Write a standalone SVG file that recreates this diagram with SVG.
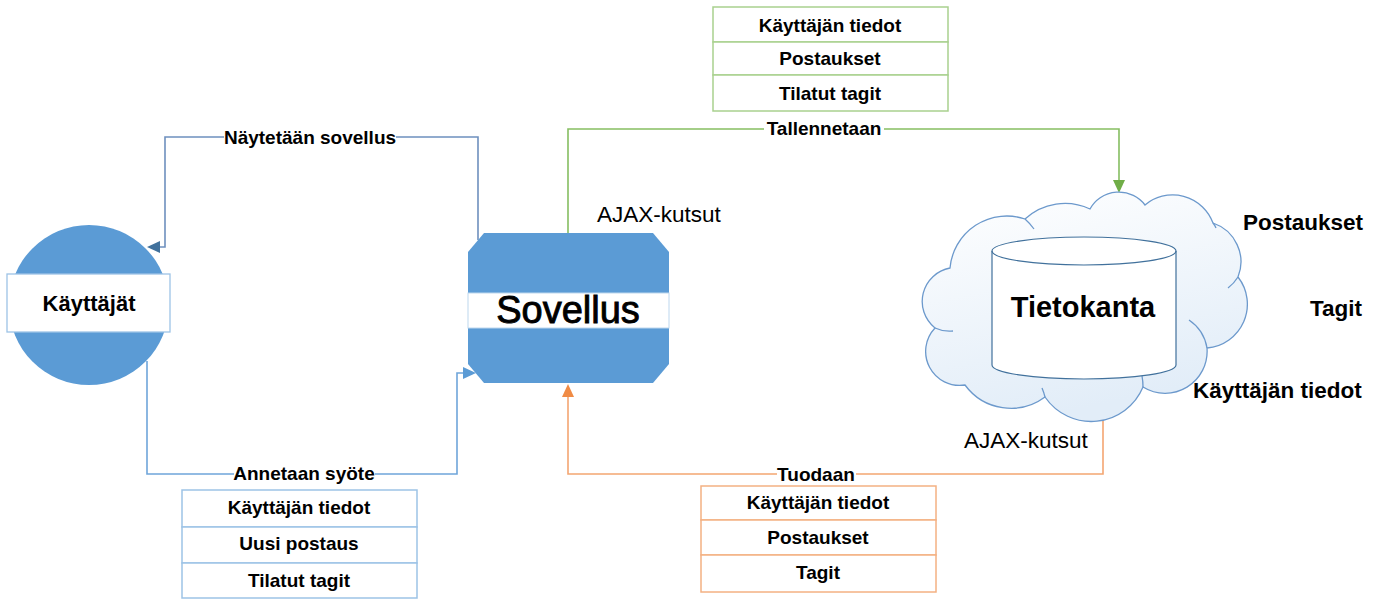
<svg xmlns="http://www.w3.org/2000/svg" width="1382" height="599" viewBox="0 0 1382 599">
  <style>
    text { font-family: "Liberation Sans", Arial, sans-serif; fill: #000; }
    .lbl { font-size: 19px; font-weight: bold; text-anchor: middle; }
    .side { font-size: 22.5px; font-weight: bold; }
    .ajax { font-size: 22.5px; }
    .cell { fill: #fff; stroke-width: 1.5; }
    .line { fill: none; stroke-width: 1.6; }
    .cloud-edge { fill: none; stroke: #6C99CC; stroke-width: 1.3; }
  </style>
  <defs>
    <linearGradient id="cloudFill" x1="0" y1="0" x2="0.3" y2="1">
      <stop offset="0" stop-color="#FFFFFF"/>
      <stop offset="1" stop-color="#E2EDF8"/>
    </linearGradient>
  </defs>

  <!-- Connectors -->
  <g id="connectors">
    <!-- Sovellus -> Käyttäjät -->
    <polyline class="line" stroke="#6E90BE" points="478,240 478,137 165,137 165,247 158,247"/>
    <polygon fill="#41719C" points="147,247 160,241 160,253"/>
    <rect x="224" y="126" width="172" height="22" fill="#fff"/>
    <text class="lbl" x="310" y="144">Näytetään sovellus</text>

    <!-- Käyttäjät -> Sovellus -->
    <polyline class="line" stroke="#6FA5DA" points="147,361 147,474 457,474 457,373 465,373"/>
    <polygon fill="#5B9BD5" points="476,373 463,367 463,379"/>
    <rect x="234" y="463" width="141" height="22" fill="#fff"/>
    <text class="lbl" x="304" y="480">Annetaan syöte</text>

    <!-- Sovellus -> Tietokanta -->
    <polyline class="line" stroke="#86BE62" points="568,233 568,129 1119,129 1119,182"/>
    <polygon fill="#70AD47" points="1119,193 1113,180 1125,180"/>
    <rect x="764" y="118" width="120" height="22" fill="#fff"/>
    <text class="lbl" x="824" y="135">Tallennetaan</text>

    <!-- Tietokanta -> Sovellus -->
    <polyline class="line" stroke="#F4A672" points="1103,421 1103,474 568,474 568,394"/>
    <polygon fill="#F08B45" points="568,384 562,397 574,397"/>
    <rect x="777" y="463" width="79" height="22" fill="#fff"/>
    <text class="lbl" x="816" y="481">Tuodaan</text>
  </g>

  <!-- Käyttäjät -->
  <g id="kayttajat">
    <circle cx="89" cy="305" r="80" fill="#5B9BD5"/>
    <rect x="7" y="274" width="163" height="58" fill="#fff" stroke="#9DC3E6" stroke-width="1.3"/>
    <text x="89" y="311" font-size="22" font-weight="bold" text-anchor="middle">Käyttäjät</text>
  </g>

  <!-- Sovellus -->
  <g id="sovellus">
    <polygon fill="#5B9BD5" points="484,233 653,233 669,252 669,364 653,383 484,383 468,364 468,252"/>
    <rect x="468" y="293" width="201" height="35" fill="#fff" stroke="#BDD7EE" stroke-width="1"/>
    <text x="568" y="323" font-size="38" text-anchor="middle" stroke="#000" stroke-width="0.9">Sovellus</text>
    <text class="ajax" x="597" y="222">AJAX-kutsut</text>
  </g>

  <!-- Tietokanta -->
  <g id="tietokanta">
    <path fill="url(#cloudFill)" stroke="#6C99CC" stroke-width="1.3"
          d="M950,268 A57,57 0 0 1 1025,219
             A59,59 0 0 1 1090,209
             A33,33 0 0 1 1145,205
             A43,43 0 0 1 1213,223
             A41,41 0 0 1 1238,277
             A44,44 0 0 1 1207,348
             A42,42 0 0 1 1143,387
             A56,56 0 0 1 1045,397
             A57,57 0 0 1 965,385
             A34,34 0 0 1 935,328
             A34,34 0 0 1 950,268 Z"/>
    <path class="cloud-edge" d="M1025,219 A57,57 0 0 1 1034,229"/>
    <path class="cloud-edge" d="M1238,277 A41,41 0 0 1 1228,288"/>
    <path class="cloud-edge" d="M1207,348 A42,42 0 0 0 1189,320"/>
    <path class="cloud-edge" d="M1143,387 A56,56 0 0 0 1142,376"/>
    <path class="cloud-edge" d="M1045,397 A57,57 0 0 0 1042,388"/>
    <path class="cloud-edge" d="M935,328 A34,34 0 0 0 953,331"/>
    <path class="cloud-edge" d="M1213,223 A20,20 0 0 1 1216,228"/>

    <path fill="#fff" stroke="#41719C" stroke-width="1.2"
          d="M992,251 A92,14 0 0 1 1176,251 L1176,365 A92,14 0 0 1 992,365 Z"/>
    <path fill="none" stroke="#41719C" stroke-width="1.2" d="M992,251 A92,14 0 0 0 1176,251"/>
    <text x="1083" y="317" font-size="29" font-weight="bold" text-anchor="middle">Tietokanta</text>

    <text class="ajax" x="964" y="448">AJAX-kutsut</text>
    <text class="side" x="1243" y="230">Postaukset</text>
    <text class="side" x="1310" y="316">Tagit</text>
    <text class="side" x="1193" y="398">Käyttäjän tiedot</text>
  </g>

  <!-- Tallennettavat tiedot -->
  <g id="tallennettavat">
    <rect class="cell" stroke="#A9D18E" x="713" y="7" width="235" height="35"/>
    <rect class="cell" stroke="#A9D18E" x="713" y="42" width="235" height="33"/>
    <rect class="cell" stroke="#A9D18E" x="713" y="75" width="235" height="36"/>
    <text class="lbl" x="830" y="32">Käyttäjän tiedot</text>
    <text class="lbl" x="830" y="65">Postaukset</text>
    <text class="lbl" x="830" y="100">Tilatut tagit</text>
  </g>

  <!-- Syötetyt tiedot -->
  <g id="syote">
    <rect class="cell" stroke="#9DC3E6" x="182" y="490" width="235" height="37"/>
    <rect class="cell" stroke="#9DC3E6" x="182" y="527" width="235" height="36"/>
    <rect class="cell" stroke="#9DC3E6" x="182" y="563" width="235" height="35"/>
    <text class="lbl" x="299" y="514">Käyttäjän tiedot</text>
    <text class="lbl" x="299" y="550">Uusi postaus</text>
    <text class="lbl" x="299" y="587">Tilatut tagit</text>
  </g>

  <!-- Tuodut tiedot -->
  <g id="tuodut">
    <rect class="cell" stroke="#F4B183" x="701" y="486" width="235" height="34"/>
    <rect class="cell" stroke="#F4B183" x="701" y="520" width="235" height="35"/>
    <rect class="cell" stroke="#F4B183" x="701" y="555" width="235" height="37"/>
    <text class="lbl" x="818" y="509">Käyttäjän tiedot</text>
    <text class="lbl" x="818" y="544">Postaukset</text>
    <text class="lbl" x="818" y="579">Tagit</text>
  </g>
</svg>
